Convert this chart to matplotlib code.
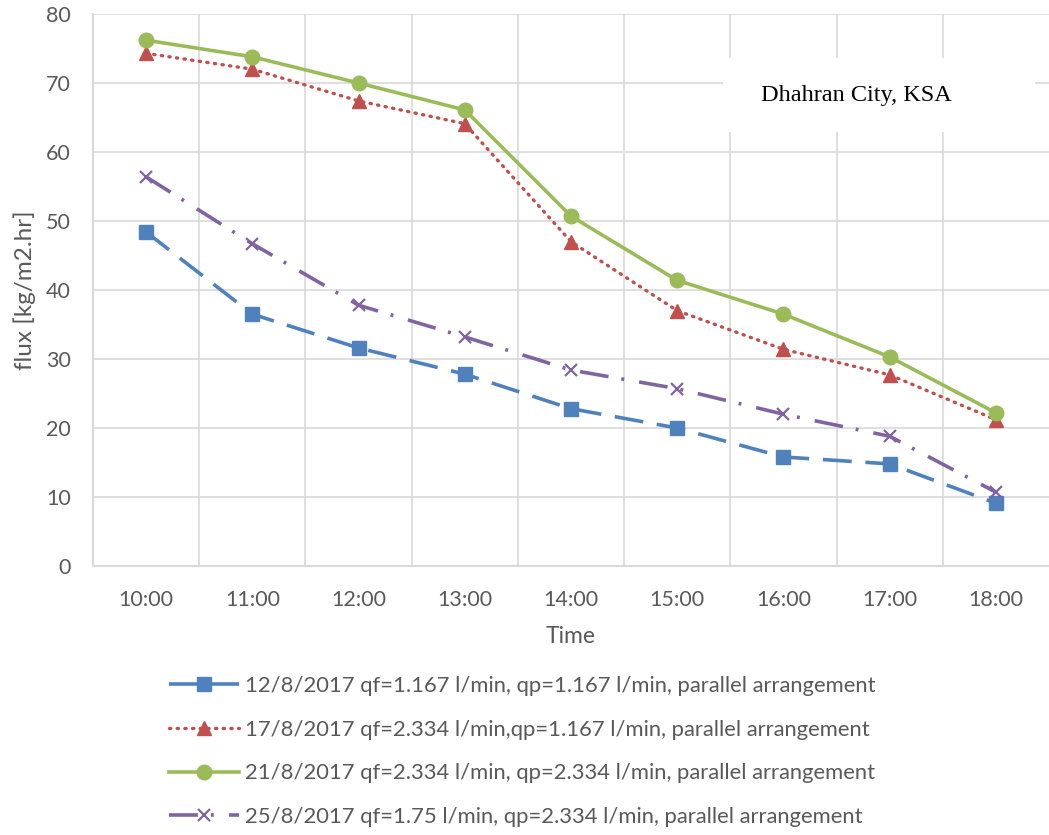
import matplotlib
matplotlib.use("Agg")
import matplotlib.pyplot as plt
import numpy as np
from matplotlib.ticker import FixedLocator
from matplotlib.patches import Rectangle

# Hourly permeate flux measurements
times = ["10:00", "11:00", "12:00", "13:00", "14:00", "15:00", "16:00", "17:00", "18:00"]

flux_12aug = [48.4, 36.5, 31.6, 27.8, 22.8, 20.0, 15.8, 14.8, 9.1]
flux_17aug = [74.3, 72.0, 67.4, 64.1, 47.0, 37.0, 31.4, 27.7, 21.2]
flux_21aug = [76.2, 73.8, 70.0, 66.1, 50.7, 41.4, 36.5, 30.3, 22.2]
flux_25aug = [56.4, 46.7, 37.8, 33.2, 28.4, 25.7, 22.0, 18.8, 10.7]

labels = [
    "12/8/2017 qf=1.167 l/min, qp=1.167 l/min, parallel arrangement",
    "17/8/2017 qf=2.334 l/min,qp=1.167 l/min, parallel arrangement",
    "21/8/2017 qf=2.334 l/min, qp=2.334 l/min, parallel arrangement",
    "25/8/2017 qf=1.75 l/min, qp=2.334 l/min, parallel arrangement",
]

plt.rcParams['font.family'] = ['Lato', 'DejaVu Sans']
text_gray = "#595959"
grid_gray = "#D9D9D9"

fig = plt.figure(figsize=(10.49, 8.35), dpi=100)
ax = fig.add_axes([93 / 1049, 1 - 566 / 835, (1049 - 93) / 1049, (566 - 14) / 835])

x = np.arange(len(times))

ax.plot(x, flux_12aug, color="#4F81BD", lw=2.6, dashes=(8, 3.8),
        marker="s", ms=10, label=labels[0], zorder=3)
ax.plot(x, flux_17aug, color="#C0504D", lw=2.4, dashes=(0.4, 1.9),
        dash_capstyle="round", marker="^", ms=10, label=labels[1], zorder=3)
ax.plot(x, flux_21aug, color="#9BBB59", lw=2.6, linestyle="-",
        marker="o", ms=10.5, label=labels[2], zorder=3)
ax.plot(x, flux_25aug, color="#8064A2", lw=2.6, dashes=(8, 3.6, 0.8, 4.2),
        marker="x", ms=9, mew=1.6, label=labels[3], zorder=3)

ax.set_xlim(-0.5, len(times) - 0.5)
ax.set_ylim(0, 80)
ax.set_yticks(np.arange(0, 81, 10))
ax.set_xticks(x)
ax.set_xticklabels(times)
ax.xaxis.set_minor_locator(FixedLocator(np.arange(0.5, len(times) - 0.5, 1)))

ax.grid(True, which="major", axis="y", color=grid_gray, lw=1.2)
ax.grid(True, which="minor", axis="x", color=grid_gray, lw=1.2)
ax.set_axisbelow(True)
ax.tick_params(which="both", length=0, labelsize=15.5, colors=text_gray)
ax.tick_params(axis="x", pad=17)
ax.tick_params(axis="y", pad=16)

for side in ["top", "right"]:
    ax.spines[side].set_visible(False)
for side in ["left", "bottom"]:
    ax.spines[side].set_color(grid_gray)
    ax.spines[side].set_linewidth(1.5)

ax.set_ylabel("flux [kg/m2.hr]", fontsize=17.5, color=text_gray, labelpad=7)
ax.set_xlabel("Time", fontsize=16.5, color=text_gray, labelpad=12)

# Location annotation in a white box
ax.add_patch(Rectangle((0.659, 0.786), 0.326, 0.134, transform=ax.transAxes,
                       fc="white", ec="none", zorder=2))
ax.text(0.799, 0.853, "Dhahran City, KSA", transform=ax.transAxes,
        fontsize=17.5, family="Liberation Serif", color="black",
        ha="center", va="center", zorder=4)

fig.legend(loc="upper left", bbox_to_anchor=(169 / 1049, 1 - 676 / 835),
           frameon=False, fontsize=15.8, labelcolor=text_gray,
           borderpad=0, borderaxespad=0,
           handlelength=3.2, labelspacing=1.08, handletextpad=0.27)

fig.savefig("out.png", dpi=100)
